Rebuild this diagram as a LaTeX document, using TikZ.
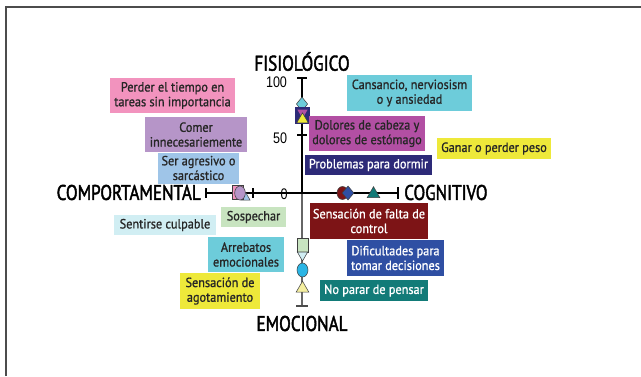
\documentclass[tikz,border=0pt]{standalone}
\usepackage{fontspec}
\usepackage{tikz}
\usetikzlibrary{shapes.geometric,positioning}
\setmainfont{PT Sans}[FakeStretch=0.92,FakeBold=1]
\newfontfamily\axfont{PT Sans}[FakeStretch=0.8,FakeBold=2]
\newfontfamily\numfont{Liberation Sans}[FakeStretch=0.82]
\definecolor{rosa}{HTML}{F293BE}
\definecolor{lila}{HTML}{B695C8}
\definecolor{celeste}{HTML}{9FC5E8}
\definecolor{turquesa}{HTML}{6DCCDA}
\definecolor{fucsia}{HTML}{B24FA3}
\definecolor{amarillo}{HTML}{EEE93A}
\definecolor{marino}{HTML}{2D2A78}
\definecolor{granate}{HTML}{7D1416}
\definecolor{azul}{HTML}{2F4FA3}
\definecolor{verdeazul}{HTML}{127B78}
\definecolor{verdeclaro}{HTML}{C8E4C0}
\definecolor{hielo}{HTML}{D1EEF3}
\definecolor{cielo}{HTML}{2BB5E5}
\definecolor{crema}{HTML}{F5EFA0}

\begin{document}
\begin{tikzpicture}[x=0.75pt,y=-0.75pt,
    caja/.style={inner sep=1pt, align=center, text=black!85, font=\fontsize{10}{11}\selectfont},
    oscura/.style={caja, text=white},
    tam/.style 2 args={minimum width=#1pt, minimum height=#2pt},
    eje/.style={inner sep=0pt, font=\axfont\fontsize{16}{16}\selectfont},
    cifra/.style={inner sep=0pt, font=\numfont\fontsize{11.5}{11.5}\selectfont},
    simb/.style={draw=black!75, line width=0.4pt, inner sep=0pt},
    cuadro/.style={simb, rectangle, minimum width=8pt, minimum height=10.5pt},
    circ/.style={simb, ellipse, minimum width=8pt, minimum height=10.5pt},
    rombo/.style={simb, diamond, minimum width=8.5pt, minimum height=10.5pt},
    tri/.style={simb, regular polygon, regular polygon sides=3, minimum size=11pt},
    trinv/.style={tri, shape border rotate=180}]
    \useasboundingbox (0,0) rectangle (641,376);
    \draw[line width=1.1pt, black!70] (6,376) -- (6,7) -- (641,7);

    \coordinate (o) at (302,193);
    \coordinate (ytop) at (302,78);
    \coordinate (ybot) at (302,306);
    \coordinate (xizq) at (206,193);
    \coordinate (xder) at (398,193);
    \draw[line width=1.5pt, black!60] (o) -- (ybot);
    \draw[line width=1.5pt] (ytop) -- (o);
    \draw[line width=0.9pt] (xizq) -- (xder);
    \draw[line width=1.1pt] (ytop) ++(-5,0) -- ++(10,0);
    \draw[line width=0.8pt] (302,135) ++(-5,0) -- ++(10,0);
    \draw[line width=1.1pt, black!70] (ybot) ++(-6,0) -- ++(12,0);
    \draw[line width=0.9pt] (xizq) ++(0,-5) -- ++(0,10);
    \draw[line width=0.9pt] (253,193) ++(0,-5) -- ++(0,10);
    \draw[line width=0.9pt] (xder) ++(0,-6) -- ++(0,12);

    \node[cifra] (n100) at (276.5,82) {100};
    \node[cifra] (n50) at (280,138.5) {50};
    \node[cifra] (n0) at (284,194) {0};

    \node[eje] (fisio) at (302,61.5) {FISIOLÓGICO};
    \node[eje, anchor=east] (comport) at (201,192.5) {COMPORTAMENTAL};
    \node[eje, anchor=west] (cogn) at (404,192.5) {COGNITIVO};
    \node[eje] (emoc) at (302,323.5) {EMOCIONAL};

    \node[rombo, fill=turquesa] (mcansancio) at (302,104) {};
    \node[cuadro, fill=marino, draw=marino, line width=0.8pt, tam={9.75}{11.25}] (mdormir) at (302.5,115.5) {};
    \node[trinv, fill=fucsia, draw=none, minimum size=9pt] (mdolores) at (302.5,112.5) {};
    \node[tri, fill=amarillo, minimum size=10pt] (mganar) at (302.5,119.5) {};

    \node[tri, fill=celeste, minimum size=8pt] (magresivo) at (245.5,197.5) {};
    \node[cuadro, fill=rosa] (mperder) at (238,192.5) {};
    \node[circ, fill=lila] (mcomer) at (240,193) {};

    \node[circ, fill=granate, tam={8.25}{9.75}] (mcontrol) at (342.5,193) {};
    \node[rombo, fill=azul, tam={9}{10.5}] (mdecisiones) at (348,193) {};
    \node[tri, fill=verdeazul, minimum size=11pt] (mpensar) at (373.5,194) {};

    \node[cuadro, fill=verdeclaro, tam={8.25}{10.5}] (msospechar) at (302.5,245) {};
    \node[trinv, fill=hielo, minimum size=9pt] (mculpable) at (302.5,255) {};
    \node[circ, fill=cielo, tam={8.25}{10.5}] (marrebatos) at (302.5,270) {};
    \node[tri, fill=crema, minimum size=11pt] (magotamiento) at (302.5,288.5) {};

    \node[caja, fill=rosa, tam={93.75}{26.25}] (perder) at (172.5,95.5) {Perder el tiempo en\\tareas sin importancia};
    \node[caja, fill=lila, tam={76.5}{26.25}] (comer) at (196,134.5) {Comer\\innecesariemente};
    \node[caja, fill=celeste, tam={60.75}{23.25}] (agresivo) at (198.5,168) {Ser agresivo o\\sarcástico};
    \node[caja, fill=turquesa, tam={93.75}{27}] (cansancio) at (409.5,93) {Cansancio, nerviosism\\o y ansiedad};
    \node[caja, fill=fucsia, tam={87}{26.25}] (dolores) at (367,133.5) {Dolores de cabeza y\\dolores de estómago};
    \node[caja, fill=amarillo, tam={85.5}{15.75}] (ganar) at (494,148.5) {Ganar o perder peso};
    \node[oscura, fill=marino, tam={95.25}{15}] (dormir) at (368.5,165) {Problemas para dormir};
    \node[oscura, fill=granate, tam={88.5}{27}] (control) at (369,221) {Sensación de falta de\\control};
    \node[oscura, fill=azul, tam={72.75}{27}] (decisiones) at (395.5,258) {Dificultades para\\tomar decisiones};
    \node[oscura, fill=verdeazul, tam={81}{15.75}] (pensar) at (374,290.5) {No parar de pensar};
    \node[caja, fill=verdeclaro, tam={48.75}{15}] (sospechar) at (253.5,217) {Sospechar};
    \node[caja, fill=hielo, tam={76.5}{15}] (culpable) at (165,225) {Sentirse culpable};
    \node[caja, fill=turquesa, tam={57}{26.25}] (arrebatos) at (246,254.5) {Arrebatos\\emocionales};
    \node[caja, fill=amarillo, tam={60}{27}] (agotamiento) at (220,291) {Sensación de\\agotamiento};
\end{tikzpicture}
\end{document}
